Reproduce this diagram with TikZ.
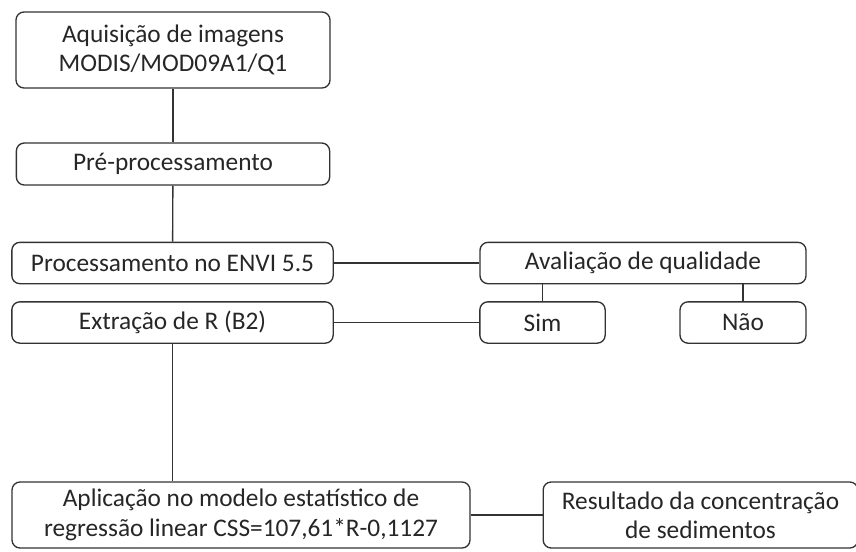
\documentclass[tikz,border=0pt]{standalone}
\usepackage{fontspec}
\setmainfont{Carlito}
\usetikzlibrary{positioning}
\tikzset{
  stepnode/.style = {draw=black!80, line width=1pt, rounded corners=6pt, align=center,
    inner sep=0pt, text=black!85, font=\fontsize{19}{22}\selectfont},
  link/.style = {draw=black!80, line width=1pt},
}
\begin{document}
\begin{tikzpicture}[x=0.75pt, y=-0.75pt]
\useasboundingbox (0,0) rectangle (856,551);

% main column
\node[stepnode, minimum width=235.5pt, minimum height=57pt] (acq) at (173,50)
  {Aquisição de imagens\\MODIS/MOD09A1/Q1};
\node[stepnode, minimum width=235pt, minimum height=31.5pt] (pre) at (173,164) {Pré-processamento};
\node[stepnode, minimum width=241pt, minimum height=31pt] (proc) at (172.5,263) {Processamento no ENVI 5.5};
\node[stepnode, minimum width=241pt, minimum height=31pt] (ext) at (172.5,322.5) {Extração de R (B2)};

% quality check
\node[stepnode, minimum width=244.5pt, minimum height=31pt] (aval) at (643,263) {Avaliação de qualidade};
\node[stepnode, minimum width=94pt, minimum height=31pt] (sim) at (542.5,322.5) {Sim};
\node[stepnode, minimum width=94.5pt, minimum height=31pt] (nao) at (743,322.5) {Não};

% bottom row
\node[stepnode, minimum width=343.5pt, minimum height=49.5pt] (apl) at (241,515)
  {Aplicação no modelo estatístico de\\regressão linear CSS=107,61*R-0,1127};
\node[stepnode, minimum width=236pt, minimum height=49.5pt] (res) at (700.5,515)
  {Resultado da concentração\\de sedimentos};

\draw[link] (acq) -- (pre);
\draw[link] (pre) -- (proc);
\draw[link] (proc) -- (aval);
\draw[link] (aval.south -| sim) -- (sim);
\draw[link] (aval.south -| nao) -- (nao);
\draw[link] (ext) -- (sim);
\draw[link] (ext.south) -- (ext.south |- apl.north);
\draw[link] (apl) -- (res);

\end{tikzpicture}
\end{document}
